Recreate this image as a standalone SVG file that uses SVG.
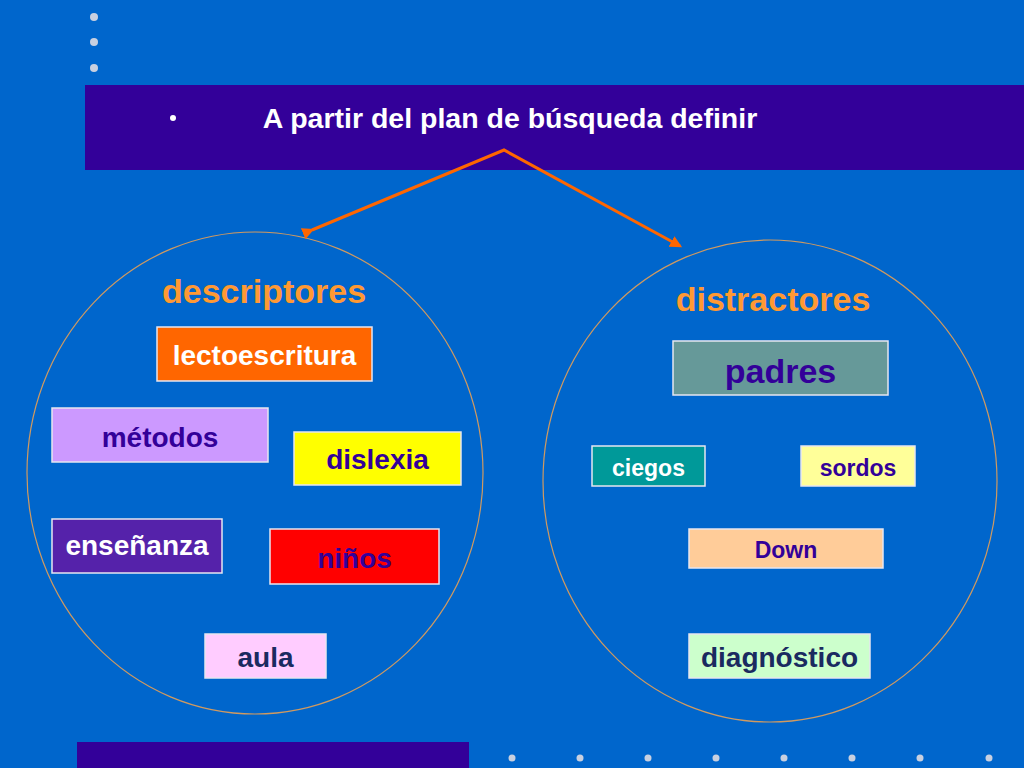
<svg xmlns="http://www.w3.org/2000/svg" width="1024" height="768" viewBox="0 0 1024 768">
<defs>
<marker id="ah" viewBox="0 0 10 10" refX="8" refY="5" markerWidth="4" markerHeight="4" orient="auto" markerUnits="strokeWidth">
<path d="M0,0 L10,5 L0,10 z" fill="#FF6600"/>
</marker>
<style>
.t{font-family:"Liberation Sans",Arial,sans-serif;font-weight:bold;text-anchor:middle}
.box{stroke:#E6E6F0;stroke-width:1.5}
.dot{fill:#C8D0E0}
.ell{fill:none;stroke:#D09A60;stroke-width:1.2}
</style>
</defs>
<rect width="1024" height="768" fill="#0066CC"/>
<g id="decor">
<circle class="dot" cx="94" cy="17" r="4"/>
<circle class="dot" cx="94" cy="42" r="4"/>
<circle class="dot" cx="94" cy="68" r="4"/>
<rect x="85" y="85" width="939" height="85" fill="#330099"/>
<rect x="77" y="742" width="392" height="26" fill="#330099"/>
<circle class="dot" cx="512" cy="758" r="3.5"/>
<circle class="dot" cx="580" cy="758" r="3.5"/>
<circle class="dot" cx="648" cy="758" r="3.5"/>
<circle class="dot" cx="716" cy="758" r="3.5"/>
<circle class="dot" cx="784" cy="758" r="3.5"/>
<circle class="dot" cx="852" cy="758" r="3.5"/>
<circle class="dot" cx="920" cy="758" r="3.5"/>
<circle class="dot" cx="989" cy="758" r="3.5"/>
</g>
<g id="title">
<circle cx="173" cy="118" r="3" fill="#FFFFFF"/>
<text class="t" x="510" y="128" font-size="28.5" fill="#FFFFFF">A partir del plan de búsqueda definir</text>
</g>
<g id="left-circle">
<ellipse class="ell" cx="255" cy="473" rx="228" ry="241"/>
<text class="t" x="264" y="303" font-size="34" fill="#FF9933">descriptores</text>
</g>
<g id="right-circle">
<ellipse class="ell" cx="770" cy="481" rx="227" ry="241"/>
<text class="t" x="773" y="311" font-size="34" fill="#FF9933">distractores</text>
</g>
<g id="connectors">
<polyline points="312,230 504,150 680,246" fill="none" stroke="#FF6600" stroke-width="3" marker-start="url(#ah)" marker-end="url(#ah)" stroke-linejoin="miter"/>
</g>
<g id="lectoescritura">
<rect class="box" x="157" y="327" width="215" height="54" fill="#FF6600"/>
<text class="t" x="264.5" y="365" font-size="28" fill="#FFFFFF">lectoescritura</text>
</g>
<g id="metodos">
<rect class="box" x="52" y="408" width="216" height="54" fill="#CC99FF"/>
<text class="t" x="160" y="447" font-size="28" fill="#330099">métodos</text>
</g>
<g id="dislexia">
<rect class="box" x="294" y="432" width="167" height="53" fill="#FFFF00"/>
<text class="t" x="377.5" y="469" font-size="28" fill="#330099">dislexia</text>
</g>
<g id="ensenanza">
<rect class="box" x="52" y="519" width="170" height="54" fill="#5522AA"/>
<text class="t" x="137" y="555" font-size="28" fill="#FFFFFF">enseñanza</text>
</g>
<g id="ninos">
<rect class="box" x="270" y="529" width="169" height="55" fill="#FF0000"/>
<text class="t" x="354.5" y="568" font-size="28" fill="#330099">niños</text>
</g>
<g id="aula">
<rect class="box" x="205" y="634" width="121" height="44" fill="#FFCCFF"/>
<text class="t" x="265.5" y="667" font-size="28" fill="#1A2A60">aula</text>
</g>
<g id="padres">
<rect class="box" x="673" y="341" width="215" height="54" fill="#669999"/>
<text class="t" x="780.5" y="383" font-size="34" fill="#330099">padres</text>
</g>
<g id="ciegos">
<rect class="box" x="592" y="446" width="113" height="40" fill="#009999"/>
<text class="t" x="648.5" y="476" font-size="23" fill="#FFFFFF">ciegos</text>
</g>
<g id="sordos">
<rect class="box" x="801" y="446" width="114" height="40" fill="#FFFF99"/>
<text class="t" x="858" y="476" font-size="23" fill="#330099">sordos</text>
</g>
<g id="down">
<rect class="box" x="689" y="529" width="194" height="39" fill="#FFCC99"/>
<text class="t" x="786" y="558" font-size="23" fill="#330099">Down</text>
</g>
<g id="diagnostico">
<rect class="box" x="689" y="634" width="181" height="44" fill="#CCFFCC"/>
<text class="t" x="779.5" y="667" font-size="28" fill="#1A2A60">diagnóstico</text>
</g>
</svg>
